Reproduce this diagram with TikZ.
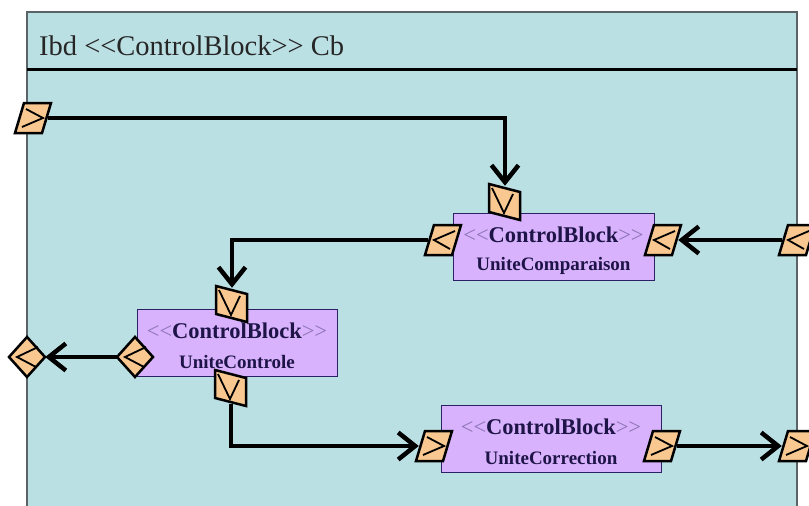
\documentclass[tikz,border=0pt]{standalone}
\usepackage{fontspec}
\setmainfont{Liberation Serif}
\usetikzlibrary{arrows.meta,calc}
\definecolor{framefill}{HTML}{BBE0E4}
\definecolor{portfill}{HTML}{F8C890}
\definecolor{blockfill}{HTML}{D8B2FC}
\definecolor{blockline}{HTML}{2B2266}
\definecolor{txtdark}{HTML}{1E1448}
\definecolor{txtlight}{HTML}{8C74B4}
\definecolor{framegray}{HTML}{5A6466}
\tikzset{
 conn/.style={line width=4.5pt, -{Straight Barb[length=17pt,width=27pt,line width=4.5pt]}},
 portbox/.style={inner sep=0pt, minimum width=30pt, minimum height=28pt},
 vportbox/.style={inner sep=0pt, minimum width=28pt, minimum height=32pt},
 dportbox/.style={inner sep=0pt, minimum width=36pt, minimum height=40pt},
 portshape/.style={draw=black, fill=portfill, line width=2.5pt, line join=miter},
 glyph/.style={draw=black, line width=1.8pt, line join=miter},
 block/.style={draw=blockline, fill=blockfill, line width=1pt, inner sep=0pt, minimum height=67pt},
 stereo/.style={anchor=base, font=\fontsize{22.5}{24}\selectfont, text=txtdark, inner sep=0pt},
 bname/.style={anchor=base, font=\fontsize{19}{20}\selectfont\bfseries, text=txtdark, inner sep=0pt},
}
\newcommand\stereotxt{{\color{txtlight}<\kern0pt<}\textbf{ControlBlock}{\color{txtlight}>\kern0pt>}}
% horizontal port, glyph >
\newcommand\hportR[2]{%
 \node[portbox] (#1) at (#2) {};
 \draw[portshape, shift={(#2)}] (-9,-15) -- (18,-15) -- (9,15) -- (-18,15) -- cycle;
 \draw[glyph, shift={(#2)}] (-7,-9) -- (10,0) -- (-11,9);}
% horizontal port, glyph <
\newcommand\hportL[2]{%
 \node[portbox] (#1) at (#2) {};
 \draw[portshape, shift={(#2)}] (-9,-15) -- (18,-15) -- (9,15) -- (-18,15) -- cycle;
 \draw[glyph, shift={(#2)}] (12,-9) -- (-9,0) -- (7,9);}
% vertical port, glyph V
\newcommand\vport[2]{%
 \node[vportbox] (#1) at (#2) {};
 \draw[portshape, shift={(#2)}] (-16,-18) -- (15,-10) -- (15,18) -- (-16,10) -- cycle;
 \draw[glyph, shift={(#2)}] (-13,-14) -- (-1,11) -- (8,-8);}
% diamond port, glyph <
\newcommand\dport[2]{%
 \node[dportbox] (#1) at (#2) {};
 \draw[portshape, shift={(#2)}] (0,-20) -- (18,0) -- (0,20) -- (-18,0) -- cycle;
 \draw[glyph, shift={(#2)}] (11,-10) -- (-10,0) -- (9,10);}
\begin{document}
\begin{tikzpicture}[x=1pt,y=-1pt]
\useasboundingbox (0,0) rectangle (809,506);
% frame
\fill[framefill] (27,12) rectangle (797,506);
\draw[framegray, line width=1.5pt] (27,506) -- (27,12) -- (797,12) -- (797,506);
\draw[black, line width=3pt] (27,69) -- (797,69);
\node[anchor=base west, font=\fontsize{28.5}{30}\selectfont, inner sep=0pt, text=black!85] (title) at (39,55) {Ibd <\kern0pt<ControlBlock>\kern0pt> Cb};
% blocks
\node[block, minimum width=201pt] (uc) at (553.5,246.5) {};
\node[block, minimum width=200pt] (ut) at (237,342.5) {};
\node[block, minimum width=220pt] (ur) at (551,438.5) {};
\node[stereo] (ucs) at ($(uc.north)+(0,30)$) {\stereotxt};
\node[bname] (ucn) at ($(uc.north)+(0,58)$) {UniteComparaison};
\node[stereo] (uts) at ($(ut.north)+(0,30)$) {\stereotxt};
\node[bname] (utn) at ($(ut.north)+(0,60)$) {UniteControle};
\node[stereo] (urs) at ($(ur.north)+(0,30)$) {\stereotxt};
\node[bname] (urn) at ($(ur.north)+(0,60)$) {UniteCorrection};
% ports
\hportR{in1}{33,118}
\vport{uct}{505,202}
\hportL{ucl}{443,240}
\hportL{ucr}{663,240}
\hportL{ro1}{797,240}
\vport{utt}{232,304}
\vport{utb}{231,388}
\dport{utl}{135,357}
\dport{ol}{27,357}
\hportR{url}{434,446}
\hportR{urr}{662,446}
\hportR{ro2}{797,446}
% connectors
\draw[conn] (in1.east) -| (uct.north);
\draw[conn] (ro1.west) -- (ucr.east);
\draw[conn] (ucl.west) -| (utt.north);
\draw[conn] (utl.west) -- (ol.east);
\draw[conn] (utb.south) |- (url.west);
\draw[conn] (urr.east) -- (ro2.west);
\end{tikzpicture}
\end{document}
